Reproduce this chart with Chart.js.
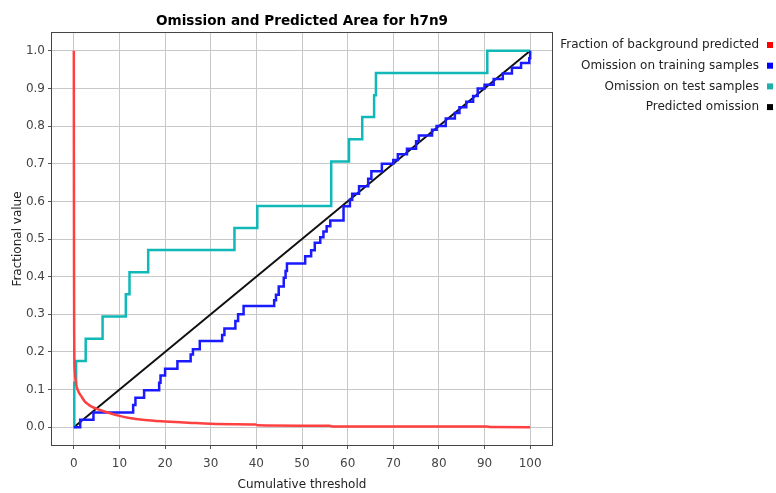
<!DOCTYPE html>
<html>
<head>
<meta charset="utf-8">
<script src="https://cdn.jsdelivr.net/npm/chart.js@4.4.1/dist/chart.umd.min.js"></script>
<style>
  body { margin: 0; background: #fff; }
  #wrap { width: 776px; height: 493px; }
</style>
</head>
<body>
<div id="wrap"><canvas id="chart" width="776" height="493"></canvas></div>
<script>
// values
const bgX = [0, 0.02, 0.05, 0.08, 0.12, 0.2, 0.5, 1, 1.6, 2.3, 3.1, 4, 5.2, 7.4, 10, 12.5, 15, 17.5, 20, 25, 30, 35, 39.8, 40.3, 50, 56, 57, 70, 80, 90.5, 91.2, 100];
const bgY = [1.0, 0.7, 0.4, 0.25, 0.18, 0.15, 0.115, 0.095, 0.083, 0.07, 0.061, 0.054, 0.048, 0.039, 0.03, 0.024, 0.02, 0.017, 0.015, 0.012, 0.009, 0.008, 0.007, 0.005, 0.004, 0.0035, 0.002, 0.002, 0.0015, 0.0015, 0.0005, 0];

const trainX = [0, 1.4, 4.3, 13.0, 13.5, 15.4, 18.7, 19.0, 20.0, 22.7, 25.6, 26.1, 27.6, 32.5, 33.0, 35.4, 36.0, 37.2, 43.9, 44.3, 44.9, 46.0, 46.4, 46.7, 50.7, 52.0, 52.8, 54.0, 54.7, 55.4, 56.2, 59.1, 60.5, 61.0, 62.5, 64.5, 65.2, 67.5, 70.0, 71.0, 73.0, 75.0, 75.6, 78.5, 79.5, 81.5, 83.5, 84.5, 86.0, 87.5, 88.5, 90.0, 92.0, 94.0, 96.0, 98.0, 99.8, 100];
const trainY = [0, 0.02, 0.039, 0.059, 0.078, 0.098, 0.118, 0.137, 0.155, 0.175, 0.193, 0.207, 0.229, 0.245, 0.262, 0.282, 0.3, 0.322, 0.337, 0.352, 0.374, 0.397, 0.415, 0.435, 0.454, 0.47, 0.49, 0.505, 0.52, 0.534, 0.549, 0.587, 0.604, 0.62, 0.64, 0.66, 0.68, 0.7, 0.71, 0.725, 0.74, 0.76, 0.775, 0.79, 0.8, 0.82, 0.835, 0.85, 0.865, 0.88, 0.9, 0.91, 0.925, 0.94, 0.955, 0.968, 0.98, 1.0];

const testX = [0, 0.1, 0.5, 2.6, 6.3, 11.4, 12.2, 16.3, 35.2, 40.2, 56.4, 60.3, 63.2, 65.8, 66.2, 90.6, 100];
const testY = [0, 0.118, 0.176, 0.235, 0.294, 0.353, 0.412, 0.471, 0.529, 0.588, 0.706, 0.765, 0.824, 0.882, 0.941, 1.0, 1.0];

const predX = [0, 100];
const predY = [0, 1];

const xTicks = [0, 10, 20, 30, 40, 50, 60, 70, 80, 90, 100];
const yTicks = [0, 0.1, 0.2, 0.3, 0.4, 0.5, 0.6, 0.7, 0.8, 0.9, 1.0];

const font = "'DejaVu Sans', Verdana, sans-serif";

function pts(xs, ys) {
  return xs.map((x, i) => ({ x: x, y: ys[i] }));
}

// legend on the right, text right-aligned with a small square after it
const sideLegend = {
  id: "sideLegend",
  afterDraw(chart) {
    const ctx = chart.ctx;
    const a = chart.chartArea;
    ctx.save();
    // plot border
    ctx.strokeStyle = "#444";
    ctx.lineWidth = 1;
    ctx.strokeRect(a.left + 0.5, a.top + 0.5, a.right - a.left - 1, a.bottom - a.top - 1);
    ctx.font = "12px " + font;
    ctx.textAlign = "right";
    ctx.textBaseline = "middle";
    chart.data.datasets.forEach((ds, i) => {
      const y = 45 + i * 20.7;
      ctx.fillStyle = "#222";
      ctx.fillText(ds.label, 759, y);
      ctx.fillStyle = ds.legendColor;
      ctx.fillRect(767, y - 3, 6, 6);
    });
    ctx.restore();
  },
};

const ctx = document.getElementById("chart").getContext("2d");
new Chart(ctx, {
  type: "line",
  data: {
    datasets: [
      {
        label: "Fraction of background predicted",
        data: pts(bgX, bgY),
        borderColor: "#ff4040",
        legendColor: "#ff0000",
        borderWidth: 2.5,
        cubicInterpolationMode: "monotone",
      },
      {
        label: "Omission on training samples",
        data: pts(trainX, trainY),
        borderColor: "#1a1aff",
        legendColor: "#0000ff",
        borderWidth: 2.5,
        stepped: true,
      },
      {
        label: "Omission on test samples",
        data: pts(testX, testY),
        borderColor: "#10b8b8",
        legendColor: "#1fb0aa",
        borderWidth: 2.5,
        stepped: true,
      },
      {
        label: "Predicted omission",
        data: pts(predX, predY),
        borderColor: "#111",
        legendColor: "#000",
        borderWidth: 2,
      },
    ],
  },
  options: {
    responsive: false,
    animation: false,
    events: [],
    elements: { point: { radius: 0 } },
    layout: { padding: { left: 0, right: 223, top: 0, bottom: 0 } },
    plugins: {
      legend: { display: false },
      tooltip: { enabled: false },
      title: {
        display: true,
        text: "Omission and Predicted Area for h7n9",
        fullSize: false,
        color: "#000",
        font: { family: font, size: 13.6, weight: "bold" },
        padding: { top: 13.6, bottom: 2.1 },
      },
    },
    scales: {
      x: {
        type: "linear",
        min: -5,
        max: 105,
        afterBuildTicks: (s) => { s.ticks = xTicks.map((v) => ({ value: v })); },
        afterFit: (s) => { s.height = 47; },
        grid: { color: "#c8c8c8", tickColor: "#555", tickLength: 3 },
        border: { display: false },
        ticks: { color: "#444", font: { family: font, size: 12 }, padding: 8, callback: (v) => String(v) },
        title: { display: true, text: "Cumulative threshold", color: "#222", font: { family: font, size: 12 }, padding: { top: 0, bottom: 1 } },
      },
      y: {
        type: "linear",
        min: -0.05,
        max: 1.05,
        afterBuildTicks: (s) => { s.ticks = yTicks.map((v) => ({ value: v })); },
        afterFit: (s) => { s.width = 51; },
        grid: { color: "#c8c8c8", tickColor: "#555", tickLength: 3 },
        border: { display: false },
        ticks: { color: "#444", font: { family: font, size: 12 }, padding: 3, callback: (v) => v.toFixed(1) },
        title: { display: true, text: "Fractional value", color: "#222", font: { family: font, size: 12 }, padding: { top: 11, bottom: 0 } },
      },
    },
  },
  plugins: [sideLegend],
});
</script>
</body>
</html>
